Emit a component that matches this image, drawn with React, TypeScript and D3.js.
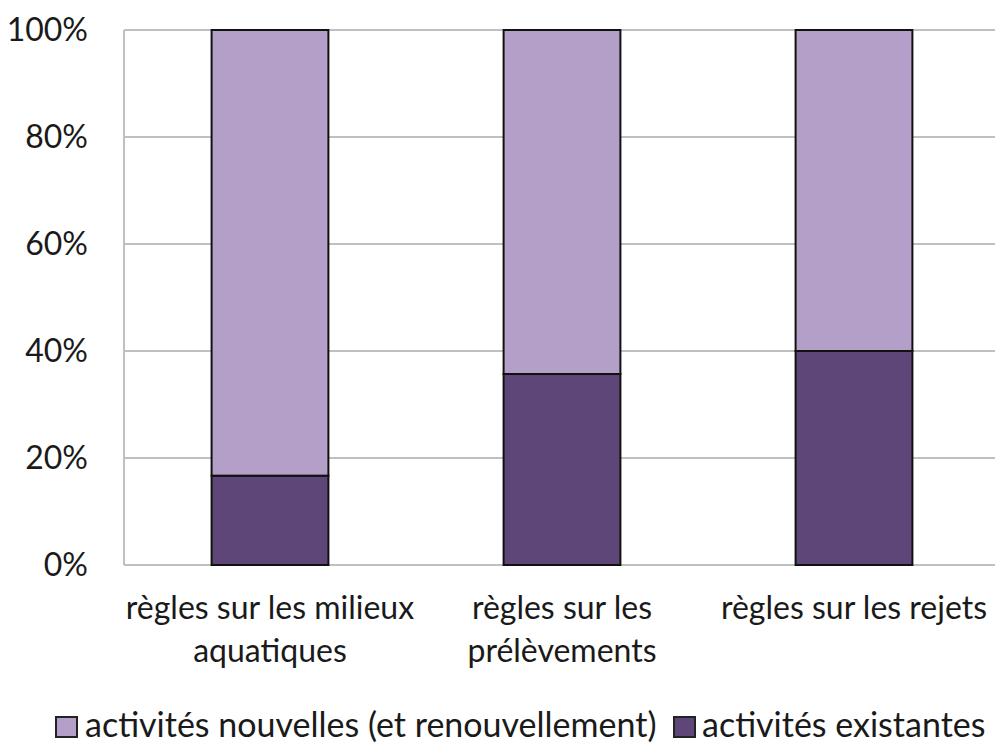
import React from "react";
import * as d3 from "d3";

const categories = [
  ["règles sur les milieux", "aquatiques"],
  ["règles sur les", "prélèvements"],
  ["règles sur les rejets"],
];
const existing = [0.167, 0.357, 0.4];
const nouvelles = existing.map((v) => 1 - v);
const yTicks = [0, 0.2, 0.4, 0.6, 0.8, 1];
const seriesNames = ["activités nouvelles (et renouvellement)", "activités existantes"];

const W = 995;
const H = 744;
const LIGHT = "#b39fc8";
const DARK = "#5e4678";
const FONT = "Lato, 'Open Sans', sans-serif";

export default function App() {
  const keys = categories.map((c) => c.join(" "));
  const x = d3.scaleBand<string>().domain(keys).range([124, 1000]).paddingInner(0.6).paddingOuter(0.3);
  const y = d3.scaleLinear().domain([0, 1]).range([565, 30]);
  const fmt = d3.format(".0%");
  const stack = keys.map((k, i) => ({ k, ex: existing[i], nv: nouvelles[i] }));

  return (
    <svg width={W} height={H} style={{ position: "absolute", left: 0, top: 0, background: "#fff" }} fontFamily={FONT}>
      <rect width={W} height={H} fill="#fff" />
      {yTicks.map((t) => (
        <g key={t}>
          <line x1={124} x2={W} y1={y(t)} y2={y(t)} stroke="#c0c0c0" strokeWidth={2} />
          <text x={88} y={y(t)} dy="0.35em" textAnchor="end" fontSize={32} fill="#1a1a1a">
            {fmt(t)}
          </text>
        </g>
      ))}
      <line x1={124} x2={124} y1={y(0)} y2={y(1)} stroke="#c0c0c0" strokeWidth={2} />
      {stack.map((d) => (
        <g key={d.k}>
          <rect x={x(d.k)} y={y(d.ex)} width={x.bandwidth()} height={y(0) - y(d.ex)} fill={DARK} stroke="#111" strokeWidth={2} />
          <rect x={x(d.k)} y={y(1)} width={x.bandwidth()} height={y(d.ex) - y(1)} fill={LIGHT} stroke="#111" strokeWidth={2} />
        </g>
      ))}
      {categories.map((lines, i) => (
        <text key={i} x={(x(keys[i]) as number) + x.bandwidth() / 2} textAnchor="middle" fontSize={32} fill="#1a1a1a">
          {lines.map((l, j) => (
            <tspan key={j} x={(x(keys[i]) as number) + x.bandwidth() / 2} y={619 + j * 43}>
              {l}
            </tspan>
          ))}
        </text>
      ))}
      <g>
        <rect x={56} y={717} width={21} height={20} fill={LIGHT} stroke="#222" strokeWidth={2} />
        <text x={85} y={737} fontSize={34} fill="#1a1a1a">{seriesNames[0]}</text>
        <rect x={674} y={717} width={21} height={20} fill={DARK} stroke="#222" strokeWidth={2} />
        <text x={702} y={737} fontSize={34} fill="#1a1a1a">{seriesNames[1]}</text>
      </g>
    </svg>
  );
}
